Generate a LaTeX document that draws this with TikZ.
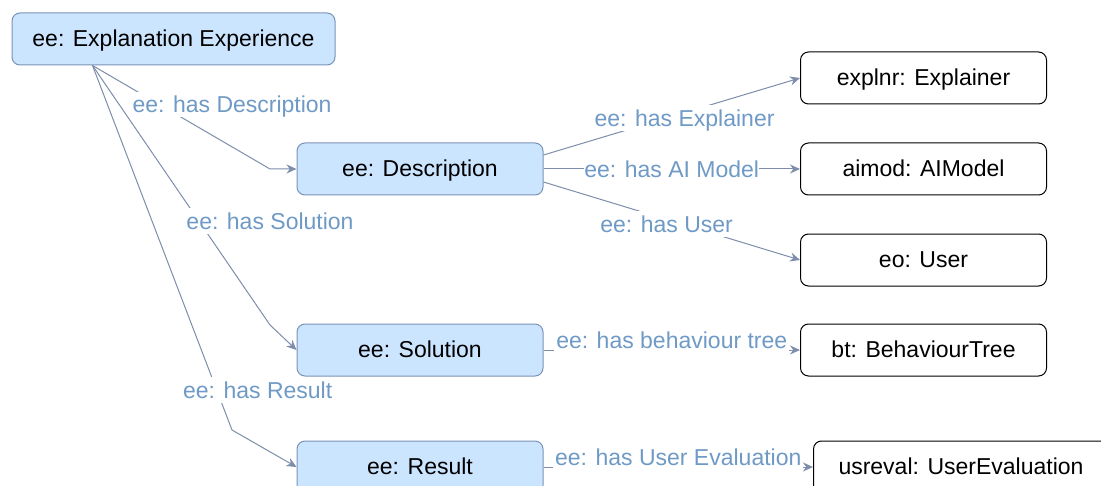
\documentclass[tikz,border=0pt]{standalone}
\usepackage{fontspec}
\setmainfont{Liberation Sans}
\usepackage{tikz}
\usetikzlibrary{arrows.meta,positioning}
\definecolor{classfill}{HTML}{CCE5FF}
\definecolor{classline}{HTML}{7A92B6}
\definecolor{edgeline}{HTML}{7D8DAB}
\definecolor{lbltext}{HTML}{6F9AC6}
\tikzset{
  cls/.style={draw=classline,fill=classfill,rounded corners=4pt,minimum height=26pt,text height=8.2pt,text depth=0.3pt,line width=0.5pt},
  inst/.style={draw=black,fill=white,rounded corners=4pt,minimum height=26pt,minimum width=123pt,text height=8.2pt,text depth=0.3pt,line width=0.5pt},
  rel/.style={draw=edgeline,line width=0.5pt,-{Stealth[length=5pt,width=4.5pt]}},
  lbl/.style={text=lbltext,fill=white,inner sep=1pt,text height=9.6pt,text depth=1.2pt}
}

\begin{document}
\begin{tikzpicture}[x=0.5pt,y=-0.5pt,font=\fontsize{11.5}{14}\selectfont]
\useasboundingbox (0,0) rectangle (1101,486);
\node[cls,minimum width=161.5pt] (ee) at (173.5,39) {ee: Explanation Experience};
\node[cls,minimum width=123pt] (desc) at (420,169) {ee: Description};
\node[cls,minimum width=123pt] (sol) at (420,350) {ee: Solution};
\node[cls,minimum width=123pt] (res) at (420,467) {ee: Result};
\node[inst] (explnr) at (923.5,78) {explnr: Explainer};
\node[inst] (aimod) at (923.5,169) {aimod: AIModel};
\node[inst] (user) at (923.5,260) {eo: User};
\node[inst] (bt) at (923.5,350) {bt: BehaviourTree};
\node[inst,minimum width=147.5pt] (usreval) at (961,467) {usreval: UserEvaluation};
\coordinate (ee-foot) at ([xshift=40.5pt]ee.south west);
% from the experience
\draw[rel] (ee-foot) -- node[lbl,pos=.375,xshift=36.5pt]{ee: has Description} (270,169) -- (desc.west);
\draw[rel] (ee-foot) -- node[lbl,pos=.6,xshift=35.5pt]{ee: has Solution} (270,325) -- (sol.west);
\draw[rel] (ee-foot) -- node[lbl,pos=.89,xshift=20.5pt]{ee: has Result} (232,430) -- (res.west);
% from the description
\draw[rel] ([yshift=7pt]desc.east) -- node[lbl,pos=.55,yshift=-2.75pt]{ee: has Explainer} (explnr.west);
\draw[rel] (desc.east) -- node[lbl,pos=.5,inner sep=0pt]{ee: has AI Model} (aimod.west);
\draw[rel] ([yshift=-6.5pt]desc.east) -- node[lbl,pos=.48,yshift=-2.2pt]{ee: has User} (user.west);
% solution and result
\draw[rel] (sol.east) -- node[lbl,pos=.5,yshift=5pt]{ee: has behaviour tree} (bt.west);
\draw[rel] (res.east) -- node[lbl,pos=.5,yshift=5pt]{ee: has User Evaluation} (usreval.west);
\end{tikzpicture}
\end{document}
